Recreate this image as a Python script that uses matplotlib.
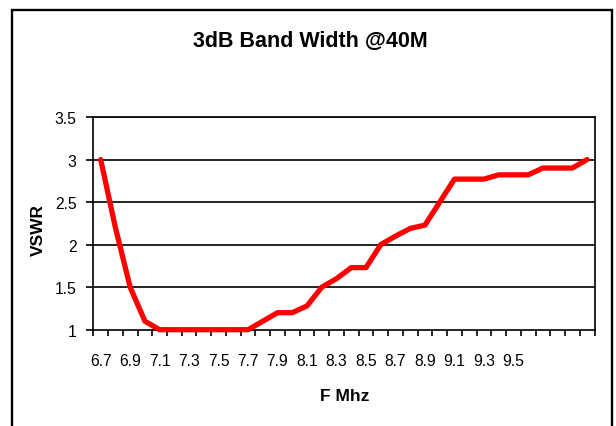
import matplotlib
matplotlib.use("Agg")
import matplotlib.pyplot as plt
from matplotlib.patches import Rectangle

freqs = ["6.7", "6.8", "6.9", "7.0", "7.1", "7.2", "7.3", "7.4", "7.5", "7.6",
         "7.7", "7.8", "7.9", "8.0", "8.1", "8.2", "8.3", "8.4", "8.5", "8.6",
         "8.7", "8.8", "8.9", "9.0", "9.1", "9.2", "9.3", "9.4", "9.5", "9.6",
         "9.7", "9.8", "9.9", "10.0"]
vswr = [3.0, 2.2, 1.5, 1.1, 1.0, 1.0, 1.0, 1.0, 1.0, 1.0,
        1.0, 1.1, 1.2, 1.2, 1.28, 1.5, 1.6, 1.73, 1.73, 2.0,
        2.1, 2.19, 2.23, 2.5, 2.77, 2.77, 2.77, 2.82, 2.82, 2.82,
        2.9, 2.9, 2.9, 3.0]
shown_labels = ["6.7", "6.9", "7.1", "7.3", "7.5", "7.7", "7.9", "8.1",
                "8.3", "8.5", "8.7", "8.9", "9.1", "9.3", "9.5"]
y_ticks = [1, 1.5, 2, 2.5, 3, 3.5]
y_labels = ["1", "1.5", "2", "2.5", "3", "3.5"]

FONT = ["Liberation Sans", "DejaVu Sans"]

W, H = 616, 427
fig = plt.figure(figsize=(W / 100, H / 100), dpi=100)

# outer chart border
fig.patches.append(Rectangle((12 / W, -0.02), 600 / W, (H - 11) / H + 0.02,
                             transform=fig.transFigure, fill=False,
                             edgecolor="black", linewidth=1.7))

left, right, top, bottom = 93.3, 594.5, 118.0, 330.7
ax = fig.add_axes([left / W, (H - bottom) / H, (right - left) / W, (bottom - top) / H])

x = list(range(len(freqs)))
ax.plot(x, vswr, color="#ff0000", linewidth=3.8, solid_joinstyle="round",
        solid_capstyle="round", zorder=5, clip_on=False)

ax.set_xlim(-0.5, len(freqs) - 0.5)
ax.set_ylim(1, 3.5)

# gridlines
for yv in y_ticks[1:]:
    ax.axhline(yv, color="black", linewidth=1.2, zorder=1)

for s in ax.spines.values():
    s.set_color("black")
    s.set_linewidth(1.2)

# y ticks
ax.set_yticks(y_ticks)
ax.set_yticklabels(y_labels, fontfamily=FONT, fontsize=11.3)
ax.tick_params(axis="y", direction="out", length=5, width=1.2, pad=7, color="black")

# x ticks: minor ticks at category boundaries, labels at even categories
ax.set_xticks([i - 0.5 for i in range(len(freqs) + 1)], minor=True)
label_pos = [freqs.index(l) for l in shown_labels]
ax.set_xticks(label_pos)
ax.set_xticklabels(shown_labels, fontfamily=FONT, fontsize=11.3)
ax.tick_params(axis="x", which="major", length=0, pad=16.5)
ax.tick_params(axis="x", which="minor", direction="out", length=4, width=1.2, color="black")

fig.text(310.5 / W, 1 - 41.5 / H, "3dB Band Width @40M", ha="center", va="center",
         fontfamily=FONT, fontweight="bold", fontsize=15.5)
fig.text(345 / W, 1 - 397 / H, "F Mhz", ha="center", va="center",
         fontfamily=FONT, fontweight="bold", fontsize=12.5)
fig.text(38.5 / W, 1 - 230 / H, "VSWR", ha="center", va="center", rotation=90,
         fontfamily=FONT, fontweight="bold", fontsize=12.5)

fig.savefig("out.png", dpi=100)
